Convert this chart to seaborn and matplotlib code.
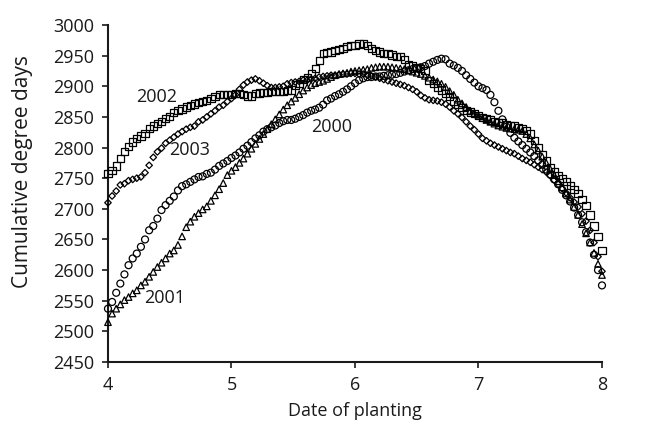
import numpy as np
import pandas as pd
import matplotlib
matplotlib.use("Agg")
import matplotlib.pyplot as plt
import seaborn as sns

# planting dates: 1 April .. 1 August, expressed as fractional month number
dates = pd.date_range("2001-04-01", "2001-08-01", freq="D")
month_pos = (dates.month + (dates.day - 1) / dates.days_in_month).to_numpy()

y2000 = [
    2537, 2548, 2563, 2578, 2593, 2608, 2619, 2627, 2638, 2650, 2665, 2672, 2684, 2698, 2706,
    2713, 2720, 2730, 2737, 2740, 2744, 2748, 2752, 2753, 2757, 2759, 2764, 2770, 2774, 2778,
    2783, 2787, 2792, 2798, 2803, 2809, 2815, 2820, 2826, 2830, 2833, 2836, 2840, 2843, 2845,
    2845, 2847, 2850, 2853, 2857, 2860, 2862, 2865, 2870, 2877, 2880, 2884, 2887, 2891, 2895, 2900,
    2905, 2910, 2913, 2915, 2915, 2916, 2916, 2917, 2918, 2919, 2920, 2922, 2924, 2926, 2928,
    2929, 2931, 2933, 2937, 2940, 2943, 2945, 2944, 2937, 2934, 2930, 2925, 2918, 2912, 2906,
    2900, 2897, 2894, 2886, 2874, 2860, 2846, 2834, 2824, 2816, 2810, 2804, 2798, 2792, 2786, 2779,
    2772, 2764, 2756, 2748, 2740, 2731, 2722, 2712, 2702, 2690, 2678, 2662, 2645, 2625, 2600, 2575,
]
y2001 = [
    2515, 2529, 2537, 2544, 2551, 2556, 2562, 2567, 2575, 2581, 2589, 2597, 2605, 2612, 2619,
    2627, 2632, 2641, 2655, 2670, 2679, 2687, 2693, 2699, 2704, 2713, 2722, 2732, 2742, 2755,
    2762, 2768, 2775, 2782, 2790, 2798, 2806, 2814, 2822, 2830, 2838, 2846, 2854, 2862, 2869,
    2875, 2881, 2887, 2893, 2898, 2902, 2905, 2907, 2909, 2912, 2915, 2918, 2920, 2921, 2922, 2924,
    2925, 2926, 2927, 2928, 2930, 2931, 2932, 2932, 2932, 2931, 2930, 2929, 2928, 2926, 2924,
    2922, 2920, 2917, 2914, 2911, 2908, 2904, 2899, 2892, 2886, 2878, 2872, 2866, 2860, 2856,
    2852, 2848, 2845, 2842, 2839, 2836, 2834, 2832, 2831, 2830, 2829, 2827, 2822, 2815, 2805, 2795,
    2785, 2775, 2765, 2755, 2745, 2735, 2725, 2715, 2703, 2690, 2675, 2660, 2645, 2628, 2610, 2592,
]
y2002 = [
    2758, 2763, 2770, 2782, 2793, 2802, 2809, 2815, 2819, 2823, 2831, 2835, 2839, 2843, 2848,
    2851, 2857, 2860, 2863, 2866, 2868, 2871, 2873, 2875, 2877, 2880, 2883, 2886, 2887, 2887,
    2887, 2888, 2888, 2886, 2884, 2884, 2888, 2889, 2890, 2890, 2891, 2891, 2891, 2892, 2893,
    2894, 2902, 2905, 2911, 2914, 2921, 2929, 2942, 2953, 2955, 2956, 2958, 2960, 2962, 2965, 2966,
    2967, 2969, 2970, 2967, 2962, 2959, 2956, 2954, 2953, 2951, 2948, 2948, 2944, 2935, 2933,
    2930, 2929, 2926, 2910, 2904, 2898, 2894, 2888, 2883, 2876, 2870, 2865, 2861, 2858, 2855,
    2852, 2849, 2847, 2845, 2843, 2841, 2840, 2838, 2836, 2835, 2833, 2831, 2828, 2822, 2812, 2800,
    2788, 2778, 2768, 2760, 2754, 2749, 2744, 2738, 2731, 2725, 2715, 2705, 2690, 2672, 2655, 2632,
]
y2003 = [
    2710, 2721, 2729, 2739, 2741, 2746, 2748, 2750, 2752, 2759, 2771, 2784, 2793, 2799, 2807,
    2812, 2817, 2822, 2826, 2830, 2833, 2835, 2842, 2845, 2850, 2855, 2860, 2866, 2869, 2875,
    2880, 2886, 2895, 2902, 2907, 2910, 2912, 2909, 2905, 2901, 2898, 2898, 2899, 2900, 2904,
    2906, 2907, 2908, 2910, 2910, 2912, 2913, 2915, 2916, 2917, 2918, 2918, 2919, 2920, 2920, 2921,
    2921, 2920, 2920, 2918, 2917, 2915, 2913, 2911, 2909, 2907, 2905, 2903, 2901, 2898, 2895,
    2891, 2885, 2881, 2878, 2877, 2876, 2874, 2871, 2866, 2860, 2855, 2849, 2842, 2835, 2829,
    2822, 2815, 2811, 2807, 2804, 2801, 2798, 2795, 2792, 2790, 2786, 2782, 2779, 2776, 2772, 2768,
    2764, 2760, 2754, 2747, 2740, 2733, 2726, 2718, 2711, 2703, 2692, 2680, 2665, 2645, 2622, 2598,
]

years = ["2000", "2001", "2002", "2003"]
values = [y2000, y2001, y2002, y2003]
label_pos = {"2000": (5.81, 2833), "2001": (4.46, 2555), "2002": (4.395, 2882), "2003": (4.66, 2796)}

df = pd.concat(
    [pd.DataFrame({"month": month_pos, "gdd": v, "year": yr}) for yr, v in zip(years, values)],
    ignore_index=True,
)

sns.set_style("white")
plt.rcParams["font.family"] = ["Open Sans", "DejaVu Sans"]

fig = plt.figure(figsize=(6.52, 4.23), dpi=100)
ax = fig.add_axes([0.1656, 0.1442, 0.7577, 0.7967])

marker_map = {"2000": "o", "2001": "^", "2002": "s", "2003": "D"}
size_map = {"2000": 25, "2001": 22, "2002": 27, "2003": 11}
for yr in years:
    sub = df[df["year"] == yr]
    sns.scatterplot(data=sub, x="month", y="gdd", marker=marker_map[yr], s=size_map[yr],
                    facecolors="none", edgecolors="black", linewidths=0.9, ax=ax,
                    legend=False, clip_on=False, zorder=3)

for yr, (tx, ty) in label_pos.items():
    ax.text(tx, ty, yr, fontsize=13, ha="center", va="center", color="#1a1a1a")

ax.set_xlim(4, 8)
ax.set_ylim(2450, 3000)
ax.set_xticks([4, 5, 6, 7, 8])
ax.set_yticks(np.arange(2450, 3001, 50))
ax.set_xlabel("Date of planting", fontsize=13, color="#1a1a1a", labelpad=6)
ax.set_ylabel("Cumulative degree days", fontsize=15, color="#1a1a1a")
ax.yaxis.set_label_coords(-0.152, 0.565)
ax.tick_params(axis="both", direction="out", length=4, width=1.2, labelsize=13,
               colors="#1a1a1a", left=True, bottom=True, pad=6)
for side in ["top", "right"]:
    ax.spines[side].set_visible(False)
for side in ["left", "bottom"]:
    ax.spines[side].set_color("#1a1a1a")
    ax.spines[side].set_linewidth(1.5)
ax.margins(0)

fig.savefig("out.png", dpi=100)
